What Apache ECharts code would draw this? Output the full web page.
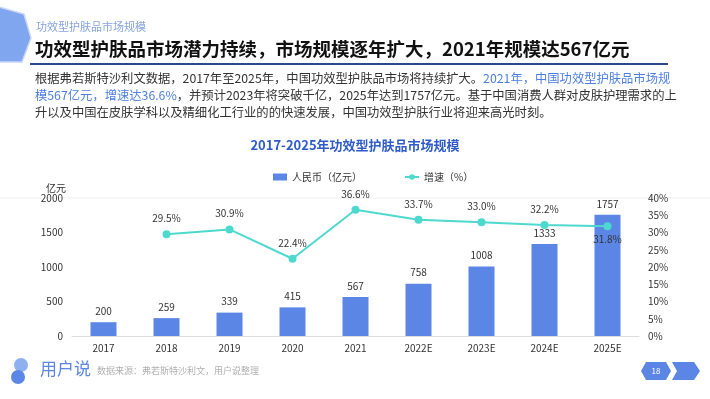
<!DOCTYPE html>
<html>
<head>
<meta charset="utf-8">
<script src="https://cdn.jsdelivr.net/npm/echarts@6/dist/echarts.min.js"></script>
<style>
  html, body { margin: 0; padding: 0; background: #fff; }
  #chart { width: 710px; height: 399px; }
</style>
</head>
<body>
<div id="chart"></div>
<script>
const years = ['2017', '2018', '2019', '2020', '2021', '2022E', '2023E', '2024E', '2025E'];
const marketSize = [200, 259, 339, 415, 567, 758, 1008, 1333, 1757];
const growthRate = [null, 29.5, 30.9, 22.4, 36.6, 33.7, 33.0, 32.2, 31.8];

const FONT = '"Noto Sans CJK SC", "Noto Sans", sans-serif';
const BLUE = '#5B86E5';
const CYAN = '#4ED9CF';

const chart = echarts.init(document.getElementById('chart'));

const paraBlack = { fontSize: 12.3, fill: '#333', fontFamily: FONT };
const paraBlue = { fontSize: 12.3, fill: '#4C7FE3', fontFamily: FONT };

const option = {
  backgroundColor: '#fff',
  textStyle: { fontFamily: FONT },
  title: {
    text: '2017-2025年功效型护肤品市场规模',
    left: 'center', top: 134,
    textStyle: { color: '#2E5BC9', fontSize: 13, fontWeight: 'bold', fontFamily: FONT }
  },
  legend: {
    left: 268, top: 167,
    itemWidth: 14, itemHeight: 7, itemGap: 42,
    textStyle: { color: '#333', fontSize: 10, fontFamily: FONT },
    data: [
      { name: '人民币（亿元）', icon: 'rect' },
      { name: '增速（%）' }
    ]
  },
  grid: { left: 72, right: 71, top: 198, bottom: 63, containLabel: false },
  xAxis: {
    type: 'category', data: years,
    axisLine: { lineStyle: { color: '#ddd' } },
    axisTick: { show: false },
    axisLabel: { color: '#333', fontSize: 10, margin: 7 }
  },
  yAxis: [
    {
      type: 'value', min: 0, max: 2000, interval: 500,
      name: '亿元', nameGap: 4,
      nameTextStyle: { color: '#333', fontSize: 10, align: 'right', padding: [0, 6, 0, 0] },
      axisLabel: { color: '#333', fontSize: 10, margin: 9, formatter: v => String(v) },
      splitLine: { show: false }
    },
    {
      type: 'value', min: 0, max: 40, interval: 5,
      axisLabel: { color: '#333', fontSize: 10, formatter: '{value}%', margin: 9 },
      splitLine: { show: false }
    }
  ],
  series: [
    {
      name: '人民币（亿元）', type: 'bar', data: marketSize,
      barWidth: 26, itemStyle: { color: BLUE },
      label: { show: true, position: 'top', color: '#333', fontSize: 10, distance: 6 }
    },
    {
      name: '增速（%）', type: 'line', yAxisIndex: 1, data: growthRate,
      symbol: 'circle', symbolSize: 8,
      lineStyle: { color: CYAN, width: 2 },
      itemStyle: { color: CYAN },
      label: {
        show: true, position: 'top', color: '#333', fontSize: 10, distance: 7,
        formatter: p => p.value == null ? '' : p.value.toFixed(1) + '%'
      },
      labelLayout: p => p.dataIndex === 8 ? { dy: 29 } : {}
    }
  ],
  graphic: [
    // left hexagon decoration
    { type: 'polygon', shape: { points: [[-12, 4], [24, 14], [31, 38], [22, 62], [-12, 62]] },
      style: { fill: '#7FA6EE', stroke: '#C9D8F6', lineWidth: 1.5 } },
    { type: 'text', left: 36, top: 21,
      style: { text: '功效型护肤品市场规模', fontSize: 11, fill: '#86A4E2', fontFamily: FONT } },
    { type: 'text', left: 35, top: 40,
      style: { text: '功效型护肤品市场潜力持续，市场规模逐年扩大，2021年规模达567亿元', fontSize: 18.5, fontWeight: 'bold', fill: '#111', fontFamily: FONT } },
    { type: 'line', shape: { x1: 30, y1: 64, x2: 668, y2: 64 }, style: { stroke: '#2B4A8B', lineWidth: 2 } },
    { type: 'text', left: 35, top: 70,
      style: {
        text: '{a|根据弗若斯特沙利文数据，2017年至2025年，中国功效型护肤品市场将持续扩大。}{b|2021年，中国功效型护肤品市场规}\n' +
              '{b|模567亿元，增速达36.6%}{a|，并预计2023年将突破千亿，2025年达到1757亿元。基于中国消费人群对皮肤护理需求的上}\n' +
              '{a|升以及中国在皮肤学科以及精细化工行业的的快速发展，中国功效型护肤行业将迎来高光时刻。}',
        lineHeight: 17, fontFamily: FONT,
        rich: { a: paraBlack, b: paraBlue }
      } },
    // faint top line across slide
    { type: 'line', shape: { x1: 0, y1: 198, x2: 710, y2: 198 }, style: { stroke: '#eee', lineWidth: 1 } },
    // logo
    { type: 'circle', shape: { cx: 21, cy: 365, r: 7 }, style: { fill: '#8FB0F0' } },
    { type: 'circle', shape: { cx: 18, cy: 377, r: 7 }, style: { fill: '#5B86E5' } },
    { type: 'text', left: 40, top: 360,
      style: { text: '用户说', fontSize: 17, fill: '#5B86E5', fontFamily: FONT } },
    { type: 'text', left: 97, top: 366,
      style: { text: '数据来源：弗若斯特沙利文，用户说整理', fontSize: 9, fill: '#b0b0b0', fontFamily: FONT } },
    // page number
    { type: 'polygon', shape: { points: [[646, 362], [666, 362], [671, 371], [666, 380], [646, 380], [641, 371]] },
      style: { fill: '#5B86E5' } },
    { type: 'text', x: 656, y: 371,
      style: { text: '18', fontSize: 8, fill: '#fff', align: 'center', verticalAlign: 'middle', fontFamily: FONT } },
    { type: 'polygon', shape: { points: [[672, 362], [694, 362], [700, 371], [694, 380], [672, 380], [677, 371]] },
      style: { fill: '#5B86E5' } }
  ]
};

chart.setOption(option);
</script>
</body>
</html>
